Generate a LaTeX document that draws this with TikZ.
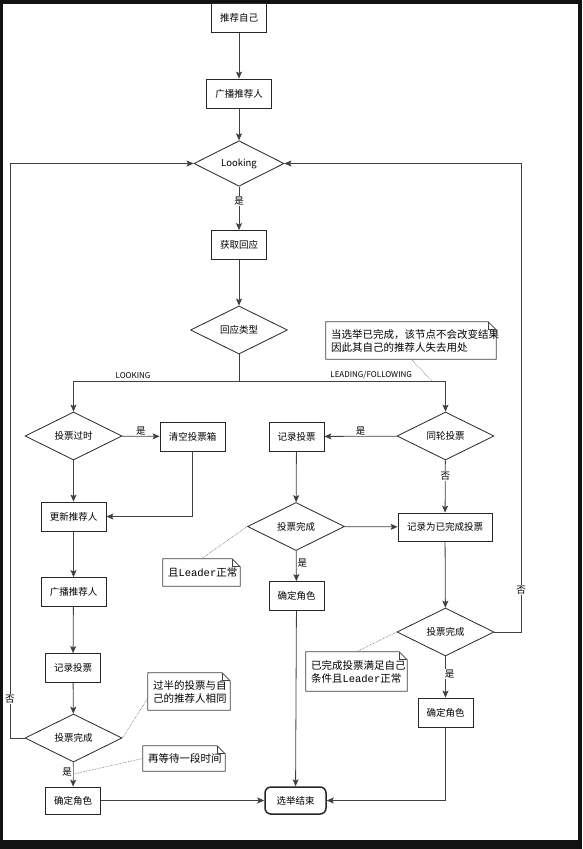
\documentclass[tikz,border=0pt]{standalone}
\usepackage{fontspec}
\setmainfont{Noto Sans CJK SC}
\newfontfamily\leadfont{Liberation Mono}
\usepackage{tikz}
\usetikzlibrary{positioning,shapes.geometric,arrows.meta}

\begin{document}
\begin{tikzpicture}[x=1pt, y=-1pt,
  box/.style={draw=black!85, line width=0.8pt, minimum width=55pt, minimum height=29pt, inner sep=2pt, font=\fontsize{9.5}{11}\selectfont},
  wbox/.style={box, minimum width=65pt},
  dec/.style={diamond, draw=black!85, line width=0.8pt, minimum width=97pt, minimum height=48pt, inner sep=0pt, font=\fontsize{9.5}{11}\selectfont},
  term/.style={box, rounded corners=6pt, line width=1.5pt, minimum width=61pt, minimum height=27pt},
  note/.style={align=left, inner sep=5pt, font=\fontsize{10.5}{13}\selectfont},
  line/.style={draw=black!75, line width=0.8pt},
  arr/.style={line, -{Stealth[length=7pt, width=6pt, inset=1.5pt]}},
  dots/.style={draw=black!60, line width=0.6pt, densely dotted},
  lbl/.style={fill=white, inner sep=1pt, font=\fontsize{9.5}{11}\selectfont},
  tag/.style={inner sep=2pt, font=\fontsize{8}{10}\selectfont}]

\fill[black!93] (0,0) rectangle (582,849);
\fill[white] (3,4) rectangle (578,840);

% nodes %

\node[box] (self) at (239,18) {推荐自己};
\node[wbox] (bcast) at (239,93.5) {广播推荐人};
\node[dec, minimum width=90pt, minimum height=45pt] (looking) at (239,163.5) {Looking};
\node[box] (resp) at (239,245) {获取回应};
\node[dec] (rtype) at (239,330) {回应类型};
\coordinate (split) at (239,381);

\node[dec] (stale) at (73.5,436) {投票过时};
\node[wbox] (clear) at (192.5,436.5) {清空投票箱};
\node[wbox] (update) at (73.5,516.5) {更新推荐人};
\node[wbox] (bcast1) at (73.5,592) {广播推荐人};
\node[box] (rec1) at (73,668) {记录投票};
\node[dec] (done1) at (73.5,738) {投票完成};
\node[box, minimum height=27pt] (role1) at (73,800.5) {确定角色};

\node[dec] (round) at (445.5,436) {同轮投票};
\node[box] (rec) at (296.5,436.5) {记录投票};
\node[dec] (done) at (296,526.5) {投票完成};
\node[box] (role) at (296.5,596) {确定角色};
\node[box, minimum width=94pt, minimum height=28pt] (rec2) at (445,527) {记录为已完成投票};
\node[dec] (done2) at (445.5,632) {投票完成};
\node[box] (role2) at (445.5,712.5) {确定角色};
\node[term] (fin) at (295.5,800.5) {选举结束};

\node[note, minimum width=170pt, minimum height=37pt, text width=160pt] (ntop) at (411,340.5) {当选举已完成，该节点不会改变结果\\因此其自己的推荐人失去用处};
\node[note, minimum width=82pt, minimum height=37pt, text width=72pt] (nhalf) at (189,691.5) {过半的投票与自\\己的推荐人相同};
\node[note, minimum width=82pt, minimum height=25pt, text width=72pt] (nwait) at (184,758.5) {再等待一段时间};
\node[note, minimum width=77pt, minimum height=27pt, text width=67pt] (nlead) at (201.5,572.5) {且{\leadfont Leader}正常};
\node[note, minimum width=101pt, minimum height=39pt, text width=91pt] (ndone) at (356.5,671.5) {已完成投票满足自己\\条件且{\leadfont Leader}正常};

\coordinate (lx) at (10,0);
\coordinate (rx) at (521,0);
\coordinate (c1) at (432,381);
\coordinate (c2) at (73.5,774);

% notes %
\foreach \n in {ntop,nhalf,nwait,nlead,ndone}{
  \draw[line] (\n.south west) -- (\n.north west) -- ([xshift=-8pt]\n.north east)
    -- ([yshift=-8pt]\n.north east) -- (\n.south east) -- cycle;
  \draw[line] ([xshift=-8pt]\n.north east) -- ([xshift=-8pt, yshift=-8pt]\n.north east)
    -- ([yshift=-8pt]\n.north east);
}

% edges %
\draw[arr] (self) -- (bcast);
\draw[arr] (bcast) -- (looking);
\draw[arr] (looking) -- node[lbl, pos=0.33] {是} (resp);
\draw[arr] (resp) -- (rtype);
\draw[line] (rtype) -- (split);
\draw[arr] (split) -| node[tag, above, pos=0.32] {LOOKING} (stale);
\draw[arr] (split) -| node[tag, above, pos=0.32] {LEADING/FOLLOWING} (round);

\draw[arr] (stale) -- node[lbl, above] {是} (clear);
\draw[arr] (stale) -- (update);
\draw[arr] (clear) |- (update);
\draw[arr] (update) -- (bcast1);
\draw[arr] (bcast1) -- (rec1);
\draw[arr] (rec1) -- (done1);
\draw[arr] (done1) -- node[lbl, left, pos=0.4] {是} (role1);
\draw[arr] (done1.west) -- (done1.west -| lx) |- node[lbl, pos=0.034] {否} (looking.west);
\draw[arr] (role1) -- (fin);

\draw[arr] (round) -- node[lbl, above] {是} (rec);
\draw[arr] (rec) -- (done);
\draw[arr] (done) -- node[lbl, right, pos=0.4] {是} (role);
\draw[arr] (role) -- (fin);
\draw[arr] (done) -- (rec2);
\draw[arr] (round) -- node[lbl, pos=0.3] {否} (rec2);
\draw[arr] (rec2) -- (done2);
\draw[arr] (done2) -- node[lbl, pos=0.43, xshift=4pt] {是} (role2);
\draw[arr] (done2.east) -- (done2.east -| rx) |- node[lbl, pos=0.045] {否} (looking.east);
\draw[arr] (role2) |- (fin);

\draw[dots] (ntop.south) -- (c1);
\draw[dots] (done1.east) -- ([yshift=12pt]nhalf.south west);
\draw[dots] (c2) -- (nwait.west);
\draw[dots] (done.west) -- (nlead.north);
\draw[dots] (done2.west) -- (ndone.north);

\end{tikzpicture}
\end{document}
